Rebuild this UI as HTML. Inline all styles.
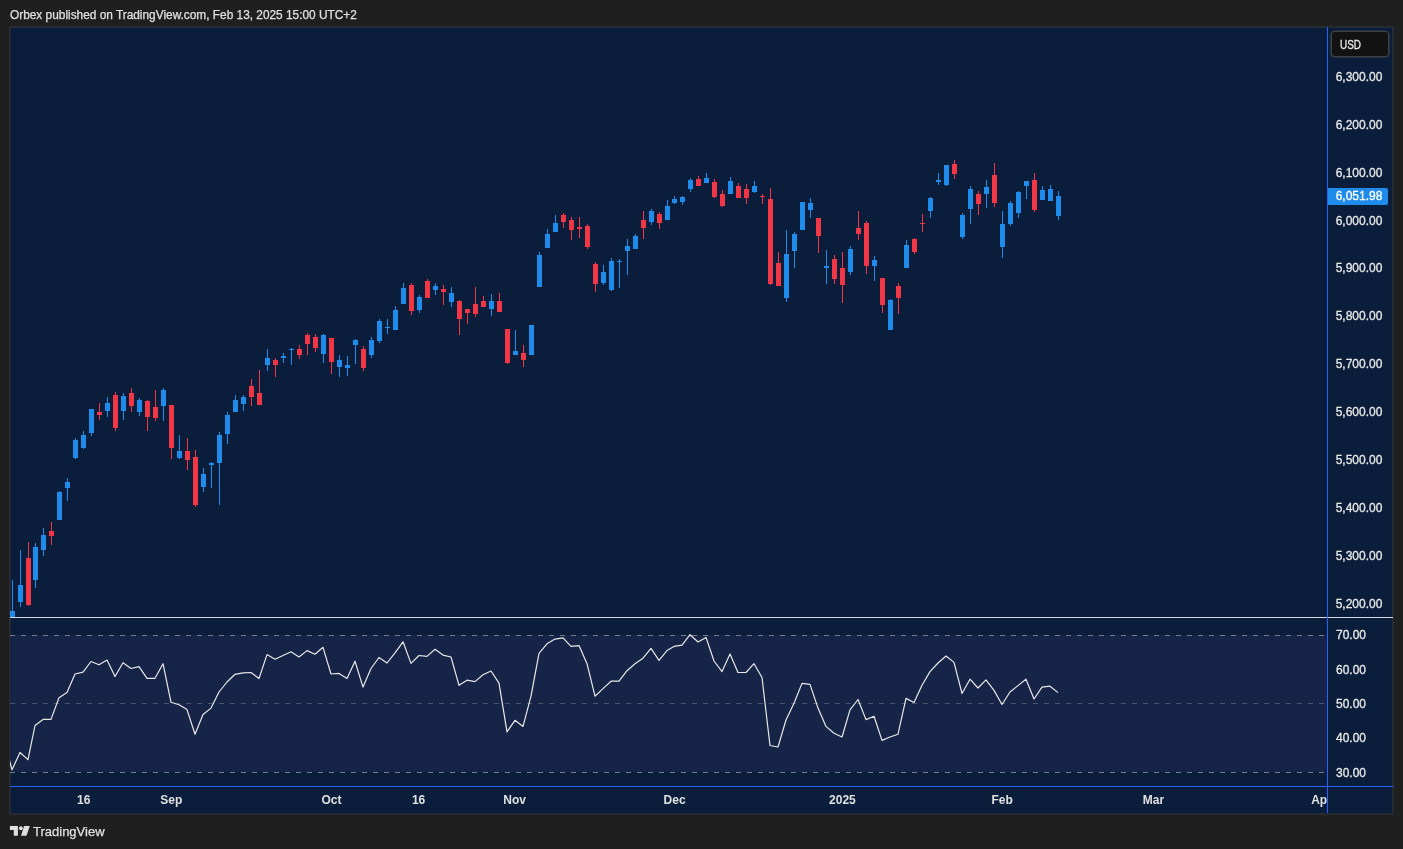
<!DOCTYPE html>
<html><head><meta charset="utf-8"><style>
html,body{margin:0;padding:0;background:#1f1f1f;width:1403px;height:849px;overflow:hidden}
body{position:relative;font-family:"Liberation Sans",sans-serif}
.hdr{position:absolute;left:10px;top:7.5px;font-size:11.86px;will-change:transform;-webkit-text-stroke:0.25px #e0e0e0;color:#e0e0e0;white-space:nowrap}
svg text{font-family:"Liberation Sans",sans-serif}
.ax{font-size:12px;fill:#e8e8e8;stroke:#e8e8e8;stroke-width:0.3px}
.tm{font-size:12px;font-weight:bold;fill:#e0e0e0}
.ft{font-size:13px;fill:#e0e0e0;stroke:#e0e0e0;stroke-width:0.25px}
</style></head><body>
<div class="hdr">Orbex published on TradingView.com, Feb 13, 2025 15:00 UTC+2</div>
<svg width="1403" height="849" viewBox="0 0 1403 849" style="position:absolute;left:0;top:0;will-change:transform">
<defs><clipPath id="main"><rect x="10" y="27" width="1317" height="590"/></clipPath><clipPath id="rsi"><rect x="10" y="618" width="1317" height="168"/></clipPath><clipPath id="time"><rect x="10" y="787" width="1317" height="26"/></clipPath></defs>
<rect x="9" y="26" width="1385" height="789" fill="#2b2b2b"/>
<rect x="10" y="27" width="1383" height="787" fill="#1f2a3b"/>
<rect x="11" y="28" width="1381" height="785" fill="#0a1d3a"/>
<rect x="10" y="635" width="1317" height="137" fill="#162447"/>
<line x1="10" y1="635.5" x2="1325" y2="635.5" stroke="#787b86" stroke-opacity="1" stroke-width="1" stroke-dasharray="5,6"/>
<line x1="10" y1="703.5" x2="1325" y2="703.5" stroke="#787b86" stroke-opacity="0.55" stroke-width="1" stroke-dasharray="5,6"/>
<line x1="10" y1="772.5" x2="1325" y2="772.5" stroke="#787b86" stroke-opacity="1" stroke-width="1" stroke-dasharray="5,6"/>
<g clip-path="url(#main)" shape-rendering="crispEdges">
<rect x="12" y="580" width="1" height="37" fill="#1f8cec"/>
<rect x="10" y="611" width="5" height="6" fill="#1f8cec"/>
<rect x="20" y="550" width="1" height="57" fill="#1f8cec"/>
<rect x="18" y="585" width="5" height="17" fill="#1f8cec"/>
<rect x="28" y="542" width="1" height="64" fill="#f23645"/>
<rect x="26" y="558" width="5" height="47" fill="#f23645"/>
<rect x="35" y="543" width="1" height="45" fill="#1f8cec"/>
<rect x="33" y="547" width="5" height="33" fill="#1f8cec"/>
<rect x="43" y="528" width="1" height="28" fill="#1f8cec"/>
<rect x="41" y="535" width="5" height="15" fill="#1f8cec"/>
<rect x="51" y="522" width="1" height="23" fill="#f23645"/>
<rect x="49" y="531" width="5" height="5" fill="#f23645"/>
<rect x="59" y="491" width="1" height="29" fill="#1f8cec"/>
<rect x="57" y="492" width="5" height="28" fill="#1f8cec"/>
<rect x="67" y="478" width="1" height="23" fill="#1f8cec"/>
<rect x="65" y="482" width="5" height="6" fill="#1f8cec"/>
<rect x="75" y="438" width="1" height="21" fill="#1f8cec"/>
<rect x="73" y="440" width="5" height="18" fill="#1f8cec"/>
<rect x="83" y="431" width="1" height="18" fill="#1f8cec"/>
<rect x="81" y="435" width="5" height="13" fill="#1f8cec"/>
<rect x="91" y="409" width="1" height="27" fill="#1f8cec"/>
<rect x="89" y="409" width="5" height="24" fill="#1f8cec"/>
<rect x="99" y="403" width="1" height="17" fill="#f23645"/>
<rect x="97" y="412" width="5" height="3" fill="#f23645"/>
<rect x="107" y="397" width="1" height="20" fill="#1f8cec"/>
<rect x="105" y="403" width="5" height="8" fill="#1f8cec"/>
<rect x="115" y="392" width="1" height="39" fill="#f23645"/>
<rect x="113" y="395" width="5" height="33" fill="#f23645"/>
<rect x="123" y="393" width="1" height="27" fill="#1f8cec"/>
<rect x="121" y="396" width="5" height="15" fill="#1f8cec"/>
<rect x="131" y="388" width="1" height="24" fill="#f23645"/>
<rect x="129" y="393" width="5" height="13" fill="#f23645"/>
<rect x="139" y="398" width="1" height="18" fill="#1f8cec"/>
<rect x="137" y="400" width="5" height="12" fill="#1f8cec"/>
<rect x="147" y="400" width="1" height="31" fill="#f23645"/>
<rect x="145" y="401" width="5" height="16" fill="#f23645"/>
<rect x="155" y="390" width="1" height="31" fill="#f23645"/>
<rect x="153" y="407" width="5" height="11" fill="#f23645"/>
<rect x="163" y="388" width="1" height="33" fill="#1f8cec"/>
<rect x="161" y="390" width="5" height="16" fill="#1f8cec"/>
<rect x="171" y="405" width="1" height="54" fill="#f23645"/>
<rect x="169" y="405" width="5" height="43" fill="#f23645"/>
<rect x="179" y="435" width="1" height="24" fill="#1f8cec"/>
<rect x="177" y="451" width="5" height="7" fill="#1f8cec"/>
<rect x="187" y="438" width="1" height="32" fill="#f23645"/>
<rect x="185" y="451" width="5" height="9" fill="#f23645"/>
<rect x="195" y="450" width="1" height="57" fill="#f23645"/>
<rect x="193" y="457" width="5" height="48" fill="#f23645"/>
<rect x="203" y="468" width="1" height="24" fill="#1f8cec"/>
<rect x="201" y="474" width="5" height="13" fill="#1f8cec"/>
<rect x="211" y="462" width="1" height="26" fill="#1f8cec"/>
<rect x="209" y="463" width="5" height="2" fill="#1f8cec"/>
<rect x="219" y="432" width="1" height="73" fill="#1f8cec"/>
<rect x="217" y="435" width="5" height="28" fill="#1f8cec"/>
<rect x="227" y="412" width="1" height="32" fill="#1f8cec"/>
<rect x="225" y="415" width="5" height="19" fill="#1f8cec"/>
<rect x="235" y="395" width="1" height="17" fill="#1f8cec"/>
<rect x="233" y="400" width="5" height="12" fill="#1f8cec"/>
<rect x="243" y="395" width="1" height="16" fill="#1f8cec"/>
<rect x="241" y="397" width="5" height="7" fill="#1f8cec"/>
<rect x="251" y="379" width="1" height="27" fill="#f23645"/>
<rect x="249" y="386" width="5" height="11" fill="#f23645"/>
<rect x="259" y="370" width="1" height="35" fill="#f23645"/>
<rect x="257" y="393" width="5" height="12" fill="#f23645"/>
<rect x="267" y="349" width="1" height="22" fill="#1f8cec"/>
<rect x="265" y="358" width="5" height="7" fill="#1f8cec"/>
<rect x="275" y="358" width="1" height="19" fill="#f23645"/>
<rect x="273" y="360" width="5" height="5" fill="#f23645"/>
<rect x="283" y="353" width="1" height="10" fill="#1f8cec"/>
<rect x="281" y="356" width="5" height="2" fill="#1f8cec"/>
<rect x="291" y="348" width="1" height="17" fill="#1f8cec"/>
<rect x="289" y="349" width="5" height="1" fill="#1f8cec"/>
<rect x="299" y="345" width="1" height="14" fill="#f23645"/>
<rect x="297" y="349" width="5" height="6" fill="#f23645"/>
<rect x="307" y="333" width="1" height="22" fill="#f23645"/>
<rect x="305" y="335" width="5" height="9" fill="#f23645"/>
<rect x="315" y="334" width="1" height="18" fill="#f23645"/>
<rect x="313" y="337" width="5" height="11" fill="#f23645"/>
<rect x="323" y="334" width="1" height="29" fill="#1f8cec"/>
<rect x="321" y="335" width="5" height="19" fill="#1f8cec"/>
<rect x="331" y="338" width="1" height="36" fill="#f23645"/>
<rect x="329" y="338" width="5" height="24" fill="#f23645"/>
<rect x="339" y="355" width="1" height="22" fill="#1f8cec"/>
<rect x="337" y="360" width="5" height="7" fill="#1f8cec"/>
<rect x="347" y="356" width="1" height="20" fill="#1f8cec"/>
<rect x="345" y="365" width="5" height="3" fill="#1f8cec"/>
<rect x="355" y="339" width="1" height="25" fill="#1f8cec"/>
<rect x="353" y="340" width="5" height="5" fill="#1f8cec"/>
<rect x="363" y="346" width="1" height="25" fill="#f23645"/>
<rect x="361" y="349" width="5" height="19" fill="#f23645"/>
<rect x="371" y="337" width="1" height="21" fill="#1f8cec"/>
<rect x="369" y="340" width="5" height="15" fill="#1f8cec"/>
<rect x="379" y="319" width="1" height="24" fill="#1f8cec"/>
<rect x="377" y="321" width="5" height="20" fill="#1f8cec"/>
<rect x="387" y="319" width="1" height="15" fill="#1f8cec"/>
<rect x="385" y="327" width="5" height="1" fill="#1f8cec"/>
<rect x="395" y="306" width="1" height="24" fill="#1f8cec"/>
<rect x="393" y="310" width="5" height="20" fill="#1f8cec"/>
<rect x="403" y="283" width="1" height="21" fill="#1f8cec"/>
<rect x="401" y="288" width="5" height="16" fill="#1f8cec"/>
<rect x="411" y="283" width="1" height="32" fill="#f23645"/>
<rect x="409" y="285" width="5" height="26" fill="#f23645"/>
<rect x="419" y="295" width="1" height="18" fill="#1f8cec"/>
<rect x="417" y="297" width="5" height="13" fill="#1f8cec"/>
<rect x="427" y="279" width="1" height="19" fill="#f23645"/>
<rect x="425" y="281" width="5" height="17" fill="#f23645"/>
<rect x="435" y="283" width="1" height="12" fill="#1f8cec"/>
<rect x="433" y="286" width="5" height="4" fill="#1f8cec"/>
<rect x="443" y="285" width="1" height="20" fill="#f23645"/>
<rect x="441" y="289" width="5" height="3" fill="#f23645"/>
<rect x="451" y="287" width="1" height="20" fill="#1f8cec"/>
<rect x="449" y="293" width="5" height="9" fill="#1f8cec"/>
<rect x="459" y="300" width="1" height="35" fill="#f23645"/>
<rect x="457" y="301" width="5" height="18" fill="#f23645"/>
<rect x="467" y="309" width="1" height="15" fill="#f23645"/>
<rect x="465" y="309" width="5" height="4" fill="#f23645"/>
<rect x="475" y="287" width="1" height="30" fill="#f23645"/>
<rect x="473" y="304" width="5" height="10" fill="#f23645"/>
<rect x="483" y="296" width="1" height="11" fill="#f23645"/>
<rect x="481" y="301" width="5" height="6" fill="#f23645"/>
<rect x="491" y="294" width="1" height="22" fill="#1f8cec"/>
<rect x="489" y="301" width="5" height="8" fill="#1f8cec"/>
<rect x="499" y="293" width="1" height="19" fill="#f23645"/>
<rect x="497" y="301" width="5" height="11" fill="#f23645"/>
<rect x="507" y="329" width="1" height="35" fill="#f23645"/>
<rect x="505" y="329" width="5" height="34" fill="#f23645"/>
<rect x="515" y="330" width="1" height="25" fill="#1f8cec"/>
<rect x="513" y="351" width="5" height="4" fill="#1f8cec"/>
<rect x="523" y="345" width="1" height="22" fill="#f23645"/>
<rect x="521" y="353" width="5" height="7" fill="#f23645"/>
<rect x="531" y="325" width="1" height="30" fill="#1f8cec"/>
<rect x="529" y="325" width="5" height="30" fill="#1f8cec"/>
<rect x="539" y="252" width="1" height="35" fill="#1f8cec"/>
<rect x="537" y="255" width="5" height="32" fill="#1f8cec"/>
<rect x="547" y="229" width="1" height="19" fill="#1f8cec"/>
<rect x="545" y="234" width="5" height="14" fill="#1f8cec"/>
<rect x="555" y="215" width="1" height="17" fill="#1f8cec"/>
<rect x="553" y="223" width="5" height="9" fill="#1f8cec"/>
<rect x="563" y="213" width="1" height="15" fill="#f23645"/>
<rect x="561" y="215" width="5" height="7" fill="#f23645"/>
<rect x="571" y="217" width="1" height="23" fill="#f23645"/>
<rect x="569" y="220" width="5" height="10" fill="#f23645"/>
<rect x="579" y="217" width="1" height="21" fill="#f23645"/>
<rect x="577" y="227" width="5" height="2" fill="#f23645"/>
<rect x="587" y="224" width="1" height="25" fill="#f23645"/>
<rect x="585" y="226" width="5" height="21" fill="#f23645"/>
<rect x="595" y="262" width="1" height="30" fill="#f23645"/>
<rect x="593" y="264" width="5" height="20" fill="#f23645"/>
<rect x="603" y="265" width="1" height="20" fill="#1f8cec"/>
<rect x="601" y="272" width="5" height="11" fill="#1f8cec"/>
<rect x="611" y="258" width="1" height="33" fill="#1f8cec"/>
<rect x="609" y="261" width="5" height="29" fill="#1f8cec"/>
<rect x="619" y="259" width="1" height="29" fill="#1f8cec"/>
<rect x="617" y="261" width="5" height="1" fill="#1f8cec"/>
<rect x="627" y="239" width="1" height="36" fill="#1f8cec"/>
<rect x="625" y="246" width="5" height="5" fill="#1f8cec"/>
<rect x="635" y="234" width="1" height="15" fill="#1f8cec"/>
<rect x="633" y="236" width="5" height="13" fill="#1f8cec"/>
<rect x="643" y="211" width="1" height="28" fill="#f23645"/>
<rect x="641" y="220" width="5" height="8" fill="#f23645"/>
<rect x="651" y="209" width="1" height="16" fill="#1f8cec"/>
<rect x="649" y="211" width="5" height="11" fill="#1f8cec"/>
<rect x="659" y="212" width="1" height="17" fill="#f23645"/>
<rect x="657" y="214" width="5" height="9" fill="#f23645"/>
<rect x="667" y="200" width="1" height="20" fill="#1f8cec"/>
<rect x="665" y="206" width="5" height="14" fill="#1f8cec"/>
<rect x="674" y="196" width="1" height="8" fill="#1f8cec"/>
<rect x="672" y="199" width="5" height="4" fill="#1f8cec"/>
<rect x="682" y="196" width="1" height="9" fill="#1f8cec"/>
<rect x="680" y="197" width="5" height="5" fill="#1f8cec"/>
<rect x="690" y="178" width="1" height="14" fill="#1f8cec"/>
<rect x="688" y="180" width="5" height="9" fill="#1f8cec"/>
<rect x="698" y="176" width="1" height="10" fill="#f23645"/>
<rect x="696" y="179" width="5" height="7" fill="#f23645"/>
<rect x="706" y="173" width="1" height="10" fill="#1f8cec"/>
<rect x="704" y="178" width="5" height="5" fill="#1f8cec"/>
<rect x="714" y="179" width="1" height="19" fill="#f23645"/>
<rect x="712" y="182" width="5" height="15" fill="#f23645"/>
<rect x="722" y="190" width="1" height="17" fill="#f23645"/>
<rect x="720" y="194" width="5" height="12" fill="#f23645"/>
<rect x="730" y="177" width="1" height="17" fill="#1f8cec"/>
<rect x="728" y="181" width="5" height="13" fill="#1f8cec"/>
<rect x="738" y="183" width="1" height="15" fill="#f23645"/>
<rect x="736" y="186" width="5" height="12" fill="#f23645"/>
<rect x="746" y="184" width="1" height="20" fill="#f23645"/>
<rect x="744" y="189" width="5" height="9" fill="#f23645"/>
<rect x="754" y="181" width="1" height="12" fill="#1f8cec"/>
<rect x="752" y="186" width="5" height="6" fill="#1f8cec"/>
<rect x="762" y="194" width="1" height="10" fill="#f23645"/>
<rect x="760" y="196" width="5" height="1" fill="#f23645"/>
<rect x="770" y="188" width="1" height="97" fill="#f23645"/>
<rect x="768" y="199" width="5" height="85" fill="#f23645"/>
<rect x="778" y="252" width="1" height="34" fill="#f23645"/>
<rect x="776" y="263" width="5" height="23" fill="#f23645"/>
<rect x="786" y="230" width="1" height="72" fill="#1f8cec"/>
<rect x="784" y="254" width="5" height="44" fill="#1f8cec"/>
<rect x="794" y="232" width="1" height="36" fill="#1f8cec"/>
<rect x="792" y="234" width="5" height="17" fill="#1f8cec"/>
<rect x="802" y="202" width="1" height="28" fill="#1f8cec"/>
<rect x="800" y="202" width="5" height="28" fill="#1f8cec"/>
<rect x="810" y="198" width="1" height="20" fill="#1f8cec"/>
<rect x="808" y="203" width="5" height="7" fill="#1f8cec"/>
<rect x="818" y="218" width="1" height="35" fill="#f23645"/>
<rect x="816" y="218" width="5" height="18" fill="#f23645"/>
<rect x="826" y="250" width="1" height="34" fill="#1f8cec"/>
<rect x="824" y="266" width="5" height="2" fill="#1f8cec"/>
<rect x="834" y="255" width="1" height="29" fill="#f23645"/>
<rect x="832" y="259" width="5" height="20" fill="#f23645"/>
<rect x="842" y="252" width="1" height="51" fill="#f23645"/>
<rect x="840" y="268" width="5" height="17" fill="#f23645"/>
<rect x="850" y="246" width="1" height="29" fill="#1f8cec"/>
<rect x="848" y="249" width="5" height="23" fill="#1f8cec"/>
<rect x="858" y="211" width="1" height="29" fill="#f23645"/>
<rect x="856" y="228" width="5" height="6" fill="#f23645"/>
<rect x="866" y="221" width="1" height="53" fill="#f23645"/>
<rect x="864" y="223" width="5" height="43" fill="#f23645"/>
<rect x="874" y="256" width="1" height="25" fill="#1f8cec"/>
<rect x="872" y="260" width="5" height="6" fill="#1f8cec"/>
<rect x="882" y="278" width="1" height="35" fill="#f23645"/>
<rect x="880" y="278" width="5" height="27" fill="#f23645"/>
<rect x="890" y="299" width="1" height="31" fill="#1f8cec"/>
<rect x="888" y="300" width="5" height="30" fill="#1f8cec"/>
<rect x="898" y="283" width="1" height="31" fill="#f23645"/>
<rect x="896" y="286" width="5" height="12" fill="#f23645"/>
<rect x="906" y="240" width="1" height="28" fill="#1f8cec"/>
<rect x="904" y="245" width="5" height="23" fill="#1f8cec"/>
<rect x="914" y="238" width="1" height="16" fill="#f23645"/>
<rect x="912" y="239" width="5" height="13" fill="#f23645"/>
<rect x="922" y="214" width="1" height="18" fill="#f23645"/>
<rect x="920" y="223" width="5" height="1" fill="#f23645"/>
<rect x="930" y="197" width="1" height="21" fill="#1f8cec"/>
<rect x="928" y="198" width="5" height="13" fill="#1f8cec"/>
<rect x="938" y="173" width="1" height="12" fill="#1f8cec"/>
<rect x="936" y="180" width="5" height="2" fill="#1f8cec"/>
<rect x="946" y="165" width="1" height="21" fill="#1f8cec"/>
<rect x="944" y="165" width="5" height="20" fill="#1f8cec"/>
<rect x="954" y="160" width="1" height="19" fill="#f23645"/>
<rect x="952" y="164" width="5" height="10" fill="#f23645"/>
<rect x="962" y="213" width="1" height="26" fill="#1f8cec"/>
<rect x="960" y="215" width="5" height="22" fill="#1f8cec"/>
<rect x="970" y="186" width="1" height="38" fill="#1f8cec"/>
<rect x="968" y="189" width="5" height="20" fill="#1f8cec"/>
<rect x="978" y="191" width="1" height="24" fill="#f23645"/>
<rect x="976" y="194" width="5" height="10" fill="#f23645"/>
<rect x="986" y="180" width="1" height="28" fill="#1f8cec"/>
<rect x="984" y="187" width="5" height="7" fill="#1f8cec"/>
<rect x="994" y="163" width="1" height="44" fill="#f23645"/>
<rect x="992" y="175" width="5" height="28" fill="#f23645"/>
<rect x="1002" y="211" width="1" height="47" fill="#1f8cec"/>
<rect x="1000" y="224" width="5" height="23" fill="#1f8cec"/>
<rect x="1010" y="201" width="1" height="25" fill="#1f8cec"/>
<rect x="1008" y="203" width="5" height="21" fill="#1f8cec"/>
<rect x="1018" y="191" width="1" height="27" fill="#1f8cec"/>
<rect x="1016" y="192" width="5" height="21" fill="#1f8cec"/>
<rect x="1026" y="181" width="1" height="18" fill="#1f8cec"/>
<rect x="1024" y="181" width="5" height="5" fill="#1f8cec"/>
<rect x="1034" y="173" width="1" height="39" fill="#f23645"/>
<rect x="1032" y="180" width="5" height="30" fill="#f23645"/>
<rect x="1042" y="186" width="1" height="14" fill="#1f8cec"/>
<rect x="1040" y="190" width="5" height="10" fill="#1f8cec"/>
<rect x="1050" y="185" width="1" height="16" fill="#1f8cec"/>
<rect x="1048" y="189" width="5" height="12" fill="#1f8cec"/>
<rect x="1058" y="191" width="1" height="29" fill="#1f8cec"/>
<rect x="1056" y="196" width="5" height="20" fill="#1f8cec"/>
</g>
<g clip-path="url(#rsi)"><path d="M4.0,740.0 L12.0,769.8 L20.0,752.5 L28.0,759.6 L35.0,725.5 L43.0,719.4 L51.0,719.4 L59.0,697.7 L67.0,692.6 L75.0,674.0 L83.0,672.1 L91.0,661.5 L99.0,664.8 L107.0,660.1 L115.0,676.5 L123.0,662.8 L131.0,668.5 L139.0,666.6 L147.0,678.3 L155.0,678.3 L163.0,663.7 L171.0,702.3 L179.0,704.8 L187.0,709.6 L195.0,734.2 L203.0,714.5 L211.0,708.1 L219.0,692.0 L227.0,682.0 L235.0,674.3 L243.0,672.9 L251.0,672.5 L259.0,678.5 L267.0,654.6 L275.0,659.2 L283.0,655.5 L291.0,651.8 L299.0,657.0 L307.0,650.6 L315.0,654.2 L323.0,647.3 L331.0,674.0 L339.0,673.4 L347.0,678.5 L355.0,661.2 L363.0,687.1 L371.0,668.5 L379.0,657.5 L387.0,663.0 L395.0,652.8 L403.0,641.8 L411.0,663.4 L419.0,655.5 L427.0,656.4 L435.0,649.3 L443.0,655.1 L451.0,657.0 L459.0,685.3 L467.0,680.2 L475.0,681.6 L483.0,674.7 L491.0,671.0 L499.0,683.1 L507.0,731.8 L515.0,720.3 L523.0,726.4 L531.0,696.2 L539.0,653.3 L547.0,643.8 L555.0,639.1 L563.0,637.8 L571.0,646.4 L579.0,645.6 L587.0,663.7 L595.0,696.2 L603.0,688.6 L611.0,681.2 L619.0,681.1 L627.0,670.7 L635.0,663.7 L643.0,658.2 L651.0,648.4 L659.0,660.3 L667.0,650.6 L674.0,646.4 L682.0,645.1 L690.0,634.7 L698.0,642.0 L706.0,637.4 L714.0,661.0 L722.0,671.6 L730.0,653.9 L738.0,672.5 L746.0,672.5 L754.0,663.7 L762.0,677.5 L770.0,745.5 L778.0,747.0 L786.0,720.0 L794.0,703.2 L802.0,683.4 L810.0,684.4 L818.0,708.1 L826.0,726.4 L834.0,733.3 L842.0,737.0 L850.0,709.9 L858.0,699.5 L866.0,719.6 L874.0,716.3 L882.0,740.4 L890.0,737.0 L898.0,734.2 L906.0,698.4 L914.0,702.5 L922.0,685.3 L930.0,671.6 L938.0,663.0 L946.0,656.0 L954.0,662.4 L962.0,693.5 L970.0,679.2 L978.0,688.0 L986.0,679.8 L994.0,690.4 L1002.0,704.5 L1010.0,692.0 L1018.0,685.6 L1026.0,679.2 L1034.0,699.0 L1042.0,687.1 L1050.0,686.2 L1058.0,692.6" fill="none" stroke="#e8e8e8" stroke-width="1.2" stroke-linejoin="round"/></g>
<rect x="10" y="617" width="1383" height="1" fill="#d9d9d9"/>
<rect x="10" y="786" width="1383" height="1" fill="#2962ff"/>
<rect x="1327" y="27" width="1" height="786" fill="#2962ff"/>
<text x="1359" y="80.8" text-anchor="middle" class="ax">6,300.00</text>
<text x="1359" y="128.7" text-anchor="middle" class="ax">6,200.00</text>
<text x="1359" y="176.6" text-anchor="middle" class="ax">6,100.00</text>
<text x="1359" y="224.5" text-anchor="middle" class="ax">6,000.00</text>
<text x="1359" y="272.4" text-anchor="middle" class="ax">5,900.00</text>
<text x="1359" y="320.3" text-anchor="middle" class="ax">5,800.00</text>
<text x="1359" y="368.2" text-anchor="middle" class="ax">5,700.00</text>
<text x="1359" y="416.1" text-anchor="middle" class="ax">5,600.00</text>
<text x="1359" y="464.0" text-anchor="middle" class="ax">5,500.00</text>
<text x="1359" y="511.9" text-anchor="middle" class="ax">5,400.00</text>
<text x="1359" y="559.8" text-anchor="middle" class="ax">5,300.00</text>
<text x="1359" y="607.7" text-anchor="middle" class="ax">5,200.00</text>
<text x="1351" y="639.2" text-anchor="middle" class="ax">70.00</text>
<text x="1351" y="673.9" text-anchor="middle" class="ax">60.00</text>
<text x="1351" y="707.9" text-anchor="middle" class="ax">50.00</text>
<text x="1351" y="742.3" text-anchor="middle" class="ax">40.00</text>
<text x="1351" y="776.5" text-anchor="middle" class="ax">30.00</text>
<path d="M1328,188 H1386 Q1388,188 1388,190 V203 Q1388,205 1386,205 H1328 Z" fill="#1f8cec"/>
<text x="1359" y="200" text-anchor="middle" class="ax" style="fill:#ffffff;stroke:#ffffff">6,051.98</text>
<rect x="1331.25" y="31.25" width="57.5" height="25.5" rx="3.5" fill="#121212" stroke="#3d4044" stroke-width="1.5"/>
<text x="1340" y="49" class="ax" textLength="21" lengthAdjust="spacingAndGlyphs">USD</text>
<g clip-path="url(#time)">
<text x="83.8" y="804" text-anchor="middle" class="tm">16</text>
<text x="171.3" y="804" text-anchor="middle" class="tm">Sep</text>
<text x="331.4" y="804" text-anchor="middle" class="tm">Oct</text>
<text x="418.6" y="804" text-anchor="middle" class="tm">16</text>
<text x="514.7" y="804" text-anchor="middle" class="tm">Nov</text>
<text x="674.6" y="804" text-anchor="middle" class="tm">Dec</text>
<text x="842.4" y="804" text-anchor="middle" class="tm">2025</text>
<text x="1002.1" y="804" text-anchor="middle" class="tm">Feb</text>
<text x="1153.5" y="804" text-anchor="middle" class="tm">Mar</text>
<text x="1321.5" y="804" text-anchor="middle" class="tm">Apr</text>
</g>
<g fill="#e0e0e0"><path d="M9.9,826 H17.9 V835.8 H13.8 V830.1 H9.9 Z"/><circle cx="20.9" cy="828.3" r="1.95"/><path d="M24.1,826 H29.8 L26.5,835.8 H21 Z"/></g>
<text x="33" y="836" class="ft">TradingView</text>
</svg>
</body></html>
